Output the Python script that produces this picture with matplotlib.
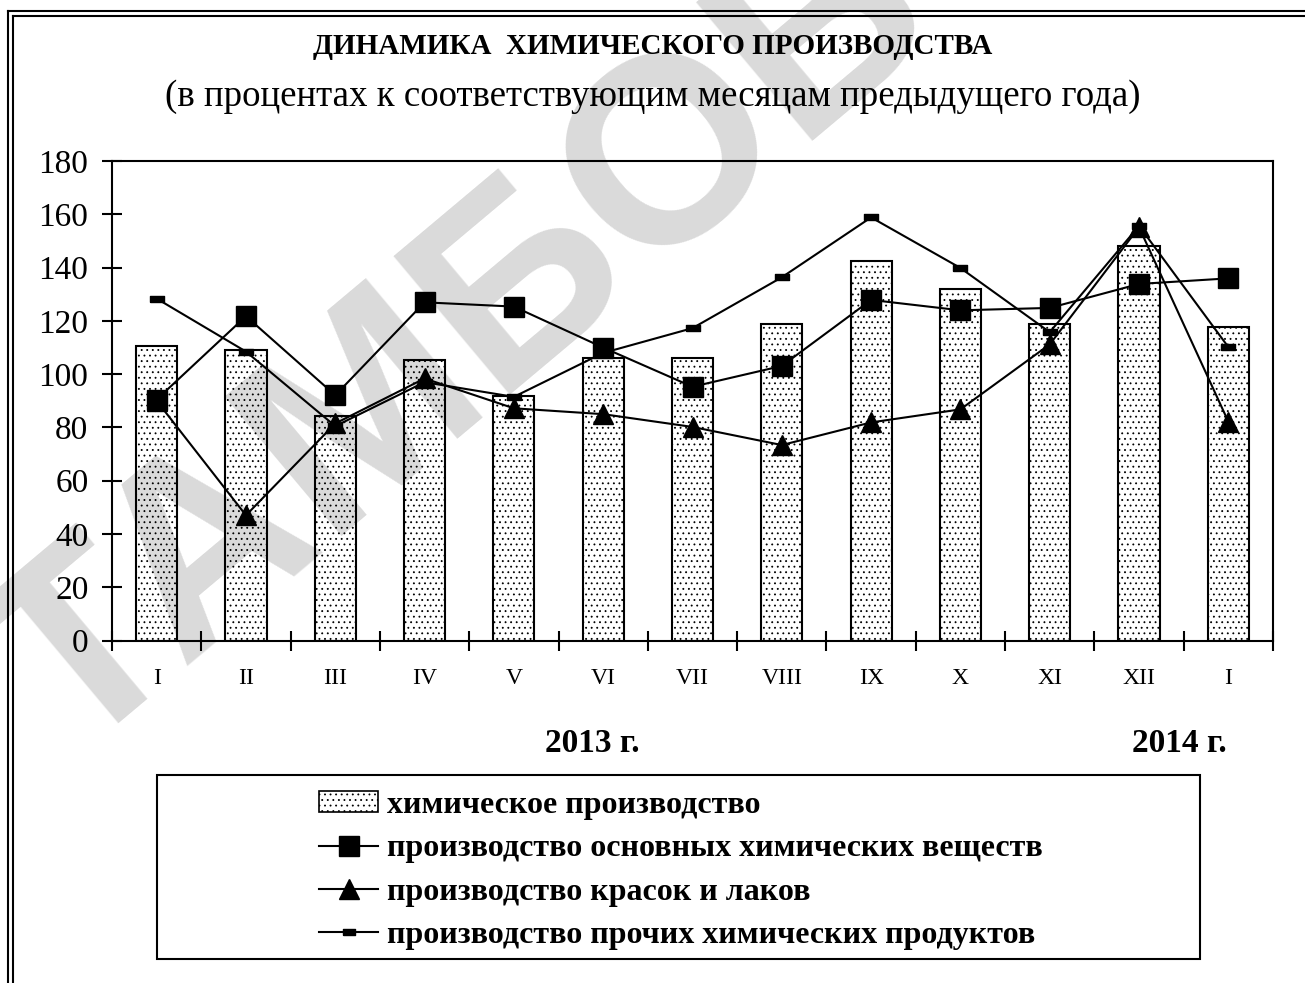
import matplotlib
matplotlib.use("Agg")
import matplotlib.pyplot as plt
from matplotlib.lines import Line2D
from matplotlib.patches import Rectangle, Patch

plt.rcParams['font.family'] = ['Liberation Serif', 'DejaVu Serif']
plt.rcParams['hatch.color'] = 'black'
plt.rcParams['hatch.linewidth'] = 0.6

# data
months = ['I', 'II', 'III', 'IV', 'V', 'VI', 'VII', 'VIII', 'IX', 'X', 'XI', 'XII', 'I']
chem = [110.5, 109, 84.3, 105.2, 92, 106.2, 106.2, 118.7, 142.6, 132, 118.7, 148, 117.7]
basic = [90.5, 121.8, 92.1, 127, 125.4, 110, 95.3, 103.1, 127.9, 124, 124.9, 133.9, 136]
paints = [90, 47, 81.5, 98.4, 87.2, 85, 80.2, 73.4, 81.9, 86.8, 111.2, 155.2, 82.2]
other = [128.4, 108.5, 80.5, 97, 91.5, 108, 117.3, 136.4, 158.9, 139.9, 115.8, 155.7, 110.2]

labels = ['химическое производство',
          'производство основных химических веществ',
          'производство красок и лаков',
          'производство прочих химических продуктов']

W, H = 1305, 983
fig = plt.figure(figsize=(W / 100, H / 100), dpi=100)

def fx(px):
    return px / W

def fy(py):
    return 1 - py / H

ax = fig.add_axes([fx(112), fy(640.5), fx(1273) - fx(112), fy(161.2) - fy(640.5)])

x = list(range(len(months)))
dash = [(-1, -0.42), (1, -0.42), (1, 0.42), (-1, 0.42), (-1, -0.42)]

ax.bar(x, chem, width=0.46, color='white', edgecolor='black', linewidth=1.5,
       hatch='...', zorder=2)
ax.plot(x, other, color='black', lw=1.5, marker=dash, markersize=10, zorder=3)
ax.plot(x, paints, color='black', lw=1.5, marker='^', markersize=14.5, zorder=4)
ax.plot(x, basic, color='black', lw=1.5, marker='s', markersize=15, zorder=5)

ax.set_xlim(-0.5, len(months) - 0.5)
ax.set_ylim(0, 180)
ax.set_yticks(range(0, 181, 20))
ax.set_xticks([i - 0.5 for i in range(len(months) + 1)])
ax.set_xticklabels([])
ax.set_xticks(x, minor=True)
ax.set_xticklabels(months, minor=True)
ax.tick_params(axis='y', direction='inout', length=14, width=1.5, labelsize=24, pad=10)
ax.tick_params(axis='x', which='major', direction='inout', length=14, width=1.5)
ax.tick_params(axis='x', which='minor', length=0, labelsize=17, pad=20)
for s in ax.spines.values():
    s.set_linewidth(1.5)

fig.text(0.5, fy(47), 'ДИНАМИКА  ХИМИЧЕСКОГО ПРОИЗВОДСТВА', ha='center', va='center',
         fontsize=21, fontweight='bold')
fig.text(0.5, fy(97), '(в процентах к соответствующим месяцам предыдущего года)',
         ha='center', va='center', fontsize=26.6)
fig.text(fx(592), fy(744), '2013 г.', ha='center', va='center', fontsize=24, fontweight='bold')
fig.text(fx(1179), fy(744), '2014 г.', ha='center', va='center', fontsize=24, fontweight='bold')

# legend box
fig.add_artist(Rectangle((fx(157), fy(959)), fx(1200) - fx(157), fy(775) - fy(959),
                         transform=fig.transFigure, fill=False, edgecolor='black', lw=1.5))
handles = [Patch(facecolor='white', edgecolor='black', hatch='...', lw=1.2),
           Line2D([], [], color='black', lw=1.5, marker='s', markersize=15),
           Line2D([], [], color='black', lw=1.5, marker='^', markersize=14.5),
           Line2D([], [], color='black', lw=1.5, marker=dash, markersize=9)]
fig.legend(handles, labels, loc='upper left', bbox_to_anchor=(fx(319), fy(791)),
           frameon=False, borderpad=0, borderaxespad=0, handlelength=1.85,
           handleheight=0.62, handletextpad=0.28, labelspacing=0.45,
           prop={'size': 23, 'weight': 'bold'})

# double frame round the picture
for off in (8, 13):
    fig.add_artist(Line2D([fx(off), fx(off)], [fy(off + 3), 0], color='black', lw=1.5))
    fig.add_artist(Line2D([fx(off), 1], [fy(off + 3), fy(off + 3)], color='black', lw=1.5))

# watermark
fig.text(fx(71), fy(761), 'ТАМБОВСТАТ', rotation=40, rotation_mode='anchor',
         ha='left', va='baseline', fontsize=190, fontweight='bold',
         family='Liberation Sans', color='black', alpha=0.15, zorder=10)

fig.savefig('out.png', dpi=100)
